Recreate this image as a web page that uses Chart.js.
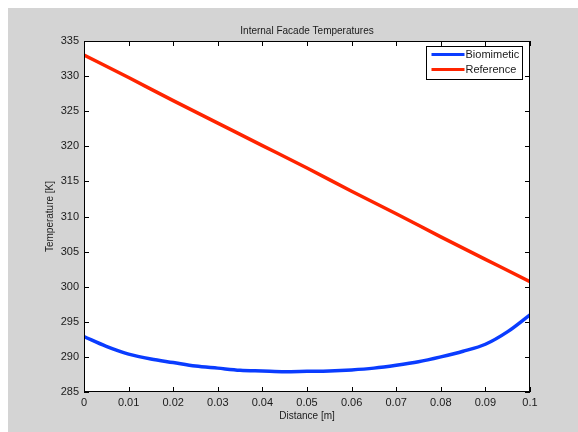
<!DOCTYPE html>
<html>
<head>
<meta charset="utf-8">
<script src="https://cdn.jsdelivr.net/npm/chart.js@4.4.0/dist/chart.umd.min.js"></script>
<style>
html,body{margin:0;padding:0;background:#fff;}
#wrap{width:578px;height:432px;position:relative;}
</style>
</head>
<body>
<div id="wrap"><canvas id="c" width="578" height="432"></canvas></div>
<script>
// ---- data ----
const titleText = 'Internal Facade Temperatures';
const xAxisLabel = 'Distance [m]';
const yAxisLabel = 'Temperature [K]';
const seriesNames = ['Biomimetic', 'Reference'];

const xTicks = [0, 0.01, 0.02, 0.03, 0.04, 0.05, 0.06, 0.07, 0.08, 0.09, 0.1];
const xTickLabels = ['0', '0.01', '0.02', '0.03', '0.04', '0.05', '0.06', '0.07', '0.08', '0.09', '0.1'];
const yTicks = [285, 290, 295, 300, 305, 310, 315, 320, 325, 330, 335];
const yTickLabels = ['285', '290', '295', '300', '305', '310', '315', '320', '325', '330', '335'];

const bioX = [0, 0.005, 0.01, 0.015, 0.02, 0.025, 0.03, 0.035, 0.04, 0.045, 0.05,
              0.055, 0.06, 0.065, 0.07, 0.075, 0.08, 0.085, 0.09, 0.095, 0.1];
const bioY = [292.9, 291.5, 290.4, 289.7, 289.2, 288.7, 288.4, 288.1, 288.0, 287.9, 287.95,
              288.0, 288.15, 288.4, 288.8, 289.3, 290.0, 290.8, 291.8, 293.6, 296.0];

const refX = [0, 0.01, 0.02, 0.03, 0.04, 0.05, 0.06, 0.07, 0.08, 0.09, 0.1];
const refY = [333.0, 329.8, 326.5, 323.3, 320.1, 316.9, 313.6, 310.4, 307.1, 303.9, 300.7];

const seriesColors = ['#0a3cff', '#ff2400'];

// ---- chart ----
const FONT = '"Liberation Sans", Arial, Helvetica, sans-serif';
const TXT = '#1a1a1a';

const decorPlugin = {
  id: 'decor',
  beforeDraw(chart) {
    const ctx = chart.ctx, a = chart.chartArea;
    ctx.save();
    ctx.fillStyle = '#ffffff';
    ctx.fillRect(0, 0, chart.width, chart.height);
    ctx.fillStyle = '#d4d4d4';
    ctx.fillRect(8, 8, chart.width - 8, chart.height - 8);
    ctx.fillStyle = '#ffffff';
    ctx.fillRect(a.left, a.top, a.right - a.left, a.bottom - a.top);
    ctx.restore();
  },
  afterDraw(chart) {
    const ctx = chart.ctx, a = chart.chartArea;
    const xs = chart.scales.x, ys = chart.scales.y;
    ctx.save();
    // box
    ctx.strokeStyle = '#000';
    ctx.lineWidth = 1;
    ctx.strokeRect(Math.round(a.left) + 0.5, Math.round(a.top) + 0.5,
                   Math.round(a.right - a.left) - 1, Math.round(a.bottom - a.top) - 1);
    // inward ticks
    const TL = 5;
    ctx.beginPath();
    xTicks.forEach(v => {
      const px = Math.round(xs.getPixelForValue(v)) + 0.5;
      ctx.moveTo(px, a.bottom); ctx.lineTo(px, a.bottom - TL);
      ctx.moveTo(px, a.top); ctx.lineTo(px, a.top + TL);
    });
    yTicks.forEach(v => {
      const py = Math.round(ys.getPixelForValue(v)) + 0.5;
      ctx.moveTo(a.left, py); ctx.lineTo(a.left + TL, py);
      ctx.moveTo(a.right, py); ctx.lineTo(a.right - TL, py);
    });
    ctx.stroke();

    // title
    ctx.fillStyle = TXT;
    ctx.font = '10px ' + FONT;
    ctx.textAlign = 'center';
    ctx.textBaseline = 'middle';
    ctx.fillText(titleText, (a.left + a.right) / 2, 31);
    // x label
    ctx.fillText(xAxisLabel, (a.left + a.right) / 2, 416);
    // y label
    ctx.save();
    ctx.translate(50, (a.top + a.bottom) / 2);
    ctx.rotate(-Math.PI / 2);
    ctx.fillText(yAxisLabel, 0, 0);
    ctx.restore();

    // legend
    const lx = 426.5, ly = 46.5, lw = 96, lh = 33;
    ctx.fillStyle = '#fff';
    ctx.fillRect(lx, ly, lw, lh);
    ctx.strokeStyle = '#000';
    ctx.lineWidth = 1;
    ctx.strokeRect(lx, ly, lw, lh);
    chart.data.datasets.forEach((ds, i) => {
      const yy = ly + 8 + i * 15;
      ctx.strokeStyle = ds.borderColor;
      ctx.lineWidth = 3;
      ctx.beginPath();
      ctx.moveTo(lx + 5, yy); ctx.lineTo(lx + 38, yy);
      ctx.stroke();
      ctx.fillStyle = TXT;
      ctx.font = '11px ' + FONT;
      ctx.textAlign = 'left';
      ctx.textBaseline = 'middle';
      ctx.fillText(ds.label, lx + 39, yy);
    });
    ctx.restore();
  }
};

new Chart(document.getElementById('c'), {
  type: 'line',
  data: {
    datasets: [
      {
        label: seriesNames[0],
        data: bioX.map((x, i) => ({ x: x, y: bioY[i] })),
        borderColor: seriesColors[0],
        borderWidth: 3.5,
        pointRadius: 0,
        cubicInterpolationMode: 'monotone',
        fill: false,
        clip: 0
      },
      {
        label: seriesNames[1],
        data: refX.map((x, i) => ({ x: x, y: refY[i] })),
        borderColor: seriesColors[1],
        borderWidth: 3.5,
        pointRadius: 0,
        cubicInterpolationMode: 'monotone',
        fill: false,
        clip: 0
      }
    ]
  },
  options: {
    responsive: false,
    animation: false,
    devicePixelRatio: 1,
    layout: { padding: { left: 24, top: 41, right: 48, bottom: 0 } },
    plugins: { legend: { display: false }, title: { display: false }, tooltip: { enabled: false } },
    scales: {
      x: {
        type: 'linear',
        min: 0, max: 0.1,
        afterBuildTicks: s => { s.ticks = xTicks.map(v => ({ value: v })); },
        afterFit: s => { s.height = 40; },
        grid: { display: false, drawTicks: false },
        border: { display: false },
        ticks: {
          autoSkip: false, maxRotation: 0, padding: 4,
          color: TXT, font: { family: FONT, size: 11 },
          callback: (v, i) => xTickLabels[i]
        }
      },
      y: {
        type: 'linear',
        min: 285, max: 335,
        afterBuildTicks: s => { s.ticks = yTicks.map(v => ({ value: v })); },
        afterFit: s => { s.width = 60; },
        grid: { display: false, drawTicks: false },
        border: { display: false },
        ticks: {
          autoSkip: false, padding: 5,
          color: TXT, font: { family: FONT, size: 11 },
          callback: (v, i) => yTickLabels[i]
        }
      }
    }
  },
  plugins: [decorPlugin]
});
</script>
</body>
</html>
